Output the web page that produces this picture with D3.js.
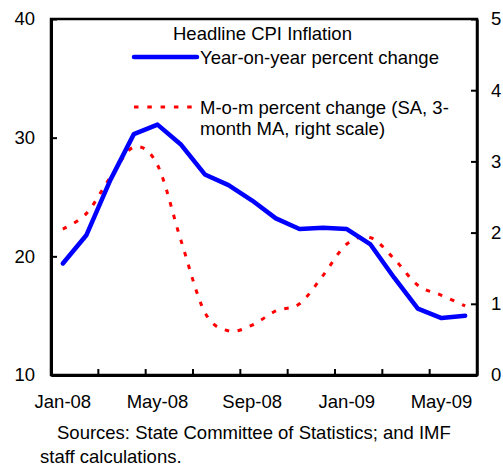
<!DOCTYPE html>
<html>
<head>
<meta charset="utf-8">
<script src="https://cdn.jsdelivr.net/npm/d3@7"></script>
<style>
  html, body { margin: 0; padding: 0; background: #fff; }
  svg { display: block; font-family: "Liberation Sans", Arial, sans-serif; }
</style>
</head>
<body>
<svg id="chart" width="503" height="466"></svg>
<script>
// ---- data ----
const months = ["Jan-08","Feb-08","Mar-08","Apr-08","May-08","Jun-08","Jul-08","Aug-08","Sep-08","Oct-08","Nov-08","Dec-08",
                "Jan-09","Feb-09","Mar-09","Apr-09","May-09","Jun-09"];
const yoyInflation = [19.4, 21.8, 26.4, 30.3, 31.1, 29.4, 26.9, 26.0, 24.7, 23.2, 22.3, 22.4, 22.3, 21.0, 18.2, 15.6, 14.8, 15.0];
const momInflation = [2.05, 2.27, 2.77, 3.2, 2.95, 1.88, 0.88, 0.62, 0.70, 0.90, 1.0, 1.4, 1.84, 1.93, 1.63, 1.26, 1.12, 0.97];
const leftTicks = [10, 20, 30, 40];
const rightTicks = [0, 1, 2, 3, 4, 5];
const xLabels = ["Jan-08", "May-08", "Sep-08", "Jan-09", "May-09"];
const legendTitle = "Headline CPI Inflation";
const legendYoy = "Year-on-year percent change";
const legendMom = ["M-o-m percent change (SA, 3-", "month MA, right scale)"];
const sourceLines = ["Sources: State Committee of Statistics; and IMF", "staff calculations."];

// ---- layout ----
const L = 51, R = 477, T = 19, B = 375;
const FS = "18.5px";
const svg = d3.select("#chart");

const x = d3.scaleBand().domain(months).range([L, R]).padding(0);
const yL = d3.scaleLinear().domain([10, 40]).range([B, T]);
const yR = d3.scaleLinear().domain([0, 5]).range([B, T]);
const cx = m => x(m) + x.bandwidth() / 2;

// frame
svg.append("rect").attr("x", L).attr("y", T).attr("width", R - L).attr("height", B - T)
  .attr("fill", "none").attr("stroke", "#000").attr("stroke-width", 2.5);

// left axis
const gL = svg.append("g").attr("transform", `translate(${L},0)`)
  .call(d3.axisLeft(yL).tickValues(leftTicks).tickSizeInner(-6).tickSizeOuter(0).tickPadding(16).tickFormat(d3.format("d")));
gL.select(".domain").attr("stroke-width", 3);
gL.selectAll(".tick line").attr("stroke-width", 2);
gL.selectAll("text").attr("font-size", FS).attr("font-family", "Liberation Sans, Arial, sans-serif").attr("fill", "#000");

// right axis
const gR = svg.append("g").attr("transform", `translate(${R},0)`)
  .call(d3.axisRight(yR).tickValues(rightTicks).tickSizeInner(-6).tickSizeOuter(0).tickPadding(14).tickFormat(d3.format("d")));
gR.select(".domain").attr("stroke-width", 2.5);
gR.selectAll(".tick line").attr("stroke-width", 2);
gR.selectAll("text").attr("font-size", FS).attr("font-family", "Liberation Sans, Arial, sans-serif").attr("fill", "#000");

// bottom axis: labels at band centres
const gB = svg.append("g").attr("transform", `translate(0,${B})`)
  .call(d3.axisBottom(x).tickValues(xLabels).tickSize(0).tickPadding(20));
gB.select(".domain").attr("stroke-width", 3);
gB.selectAll("text").attr("font-size", FS).attr("font-family", "Liberation Sans, Arial, sans-serif").attr("fill", "#000");

// bottom tick marks at band boundaries every 2 months
svg.append("g").selectAll("line")
  .data(months.filter((m, i) => i > 0 && i % 2 === 0))
  .join("line")
  .attr("x1", d => x(d)).attr("x2", d => x(d))
  .attr("y1", B).attr("y2", B - 6)
  .attr("stroke", "#000").attr("stroke-width", 2);

// red m-o-m line (right scale), smoothed dotted
const lineR = d3.line().x((d, i) => cx(months[i])).y(d => yR(d)).curve(d3.curveCatmullRom.alpha(0));
svg.append("path").datum(momInflation)
  .attr("d", lineR).attr("fill", "none").attr("stroke", "#ff0000")
  .attr("stroke-width", 3).attr("stroke-dasharray", "4.5,8.5");

// blue y-o-y line (left scale)
const lineL = d3.line().x((d, i) => cx(months[i])).y(d => yL(d));
svg.append("path").datum(yoyInflation)
  .attr("d", lineL).attr("fill", "none").attr("stroke", "#0000ff")
  .attr("stroke-width", 4.5).attr("stroke-linejoin", "round").attr("stroke-linecap", "round");

// legend
const leg = svg.append("g").attr("font-size", FS).attr("fill", "#000");
leg.append("text").attr("x", 173).attr("y", 40).text(legendTitle);
leg.append("line").attr("x1", 134).attr("x2", 197).attr("y1", 57).attr("y2", 57)
  .attr("stroke", "#0000ff").attr("stroke-width", 4.5).attr("stroke-linecap", "round");
leg.append("text").attr("x", 200).attr("y", 64).text(legendYoy);
leg.append("line").attr("x1", 134).attr("x2", 194).attr("y1", 107).attr("y2", 107)
  .attr("stroke", "#ff0000").attr("stroke-width", 3).attr("stroke-dasharray", "4.5,8.8");
leg.append("text").attr("x", 200).attr("y", 114).text(legendMom[0]);
leg.append("text").attr("x", 200).attr("y", 135).text(legendMom[1]);

// sources note
svg.append("text").attr("x", 57).attr("y", 439).attr("font-size", FS).text(sourceLines[0]);
svg.append("text").attr("x", 40).attr("y", 463).attr("font-size", FS).text(sourceLines[1]);
</script>
</body>
</html>
